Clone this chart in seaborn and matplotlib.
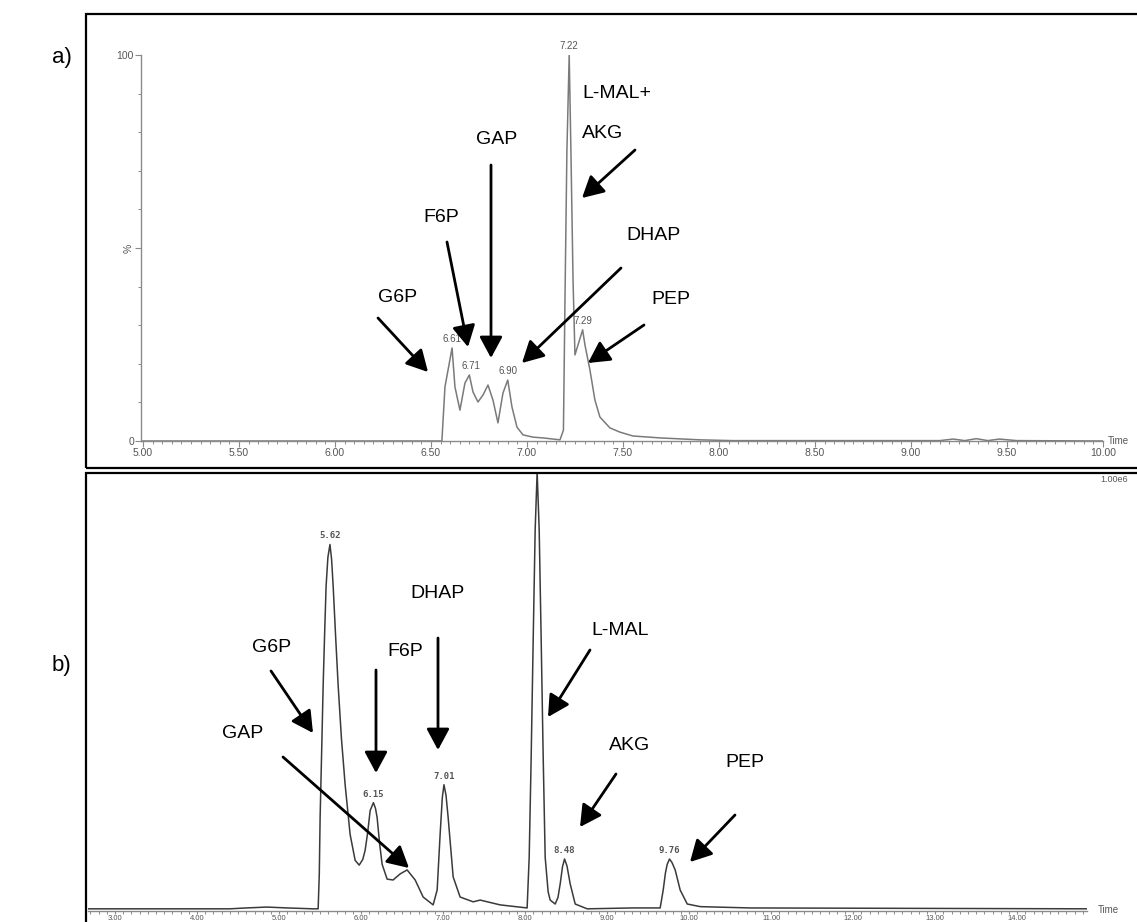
import numpy as np
import pandas as pd
import matplotlib
matplotlib.use("Agg")
import matplotlib.pyplot as plt
from matplotlib.patches import Rectangle, FancyArrowPatch
from matplotlib.ticker import MultipleLocator, FixedLocator
import seaborn as sns

# ---------------- data ----------------
# panel a) chromatogram trace: retention time (min) vs relative intensity (%)
time_a = [4.99, 6.40, 6.557, 6.573, 6.61, 6.625, 6.651, 6.677, 6.70, 6.719, 6.745,
          6.771, 6.797, 6.823, 6.849, 6.875, 6.90, 6.922, 6.948, 6.979, 7.031,
          7.083, 7.172, 7.19, 7.198, 7.208, 7.22, 7.229, 7.24, 7.25, 7.266, 7.29,
          7.302, 7.328, 7.354, 7.38, 7.432, 7.484, 7.552, 7.693, 7.901, 8.07,
          8.5, 9.15, 9.22, 9.28, 9.34, 9.40, 9.46, 9.55, 10.0]
signal_a = [0.0, 0.0, 0.0, 14.0, 24.1, 14.0, 8.0, 15.0, 17.1, 12.7, 10.1,
            11.9, 14.5, 10.6, 4.7, 12.4, 15.8, 8.8, 3.6, 1.6, 1.0,
            0.8, 0.3, 2.8, 36.5, 75.0, 100.0, 75.0, 41.7, 22.3, 24.9, 28.8,
            24.9, 18.4, 10.6, 6.2, 3.4, 2.3, 1.3, 0.8, 0.3, 0.1,
            0.1, 0.1, 0.5, 0.1, 0.6, 0.1, 0.5, 0.1, 0.0]
peaks_a = [6.61, 6.71, 6.90, 7.22, 7.29]
peak_heights_a = [24.1, 17.1, 15.8, 100.0, 28.8]

# panel b) chromatogram trace
time_b = [2.67, 4.40, 4.60, 4.85, 5.10, 5.41, 5.476, 5.49, 5.50, 5.52, 5.537, 5.555,
          5.573, 5.595, 5.62, 5.64, 5.659, 5.69, 5.72, 5.76, 5.805, 5.866, 5.927,
          5.976, 6.02, 6.049, 6.08, 6.11, 6.15, 6.175, 6.195, 6.225, 6.256, 6.317,
          6.39, 6.476, 6.561, 6.659, 6.756, 6.878, 6.927, 6.963, 6.99, 7.01, 7.035,
          7.061, 7.122, 7.207, 7.366, 7.451, 7.695, 8.024, 8.049, 8.073, 8.098,
          8.122, 8.146, 8.171, 8.195, 8.22, 8.244, 8.28, 8.305, 8.366, 8.40, 8.427,
          8.455, 8.48, 8.51, 8.549, 8.61, 8.756, 9.317, 9.646, 9.683, 9.71, 9.732,
          9.76, 9.79, 9.829, 9.89, 9.976, 10.134, 10.74, 14.85]
signal_b = [0.0, 0.0, 0.2, 0.4, 0.2, 0.0, 0.0, 8.0, 20.9, 37.0, 51.1, 63.0,
            73.9, 80.5, 83.4, 80.0, 73.9, 62.0, 51.1, 39.0, 28.4, 17.0, 11.1,
            10.0, 11.3, 13.4, 17.5, 22.5, 24.3, 23.0, 20.9, 15.0, 10.2, 6.8,
            6.6, 8.0, 8.9, 6.6, 2.7, 0.9, 4.3, 17.0, 25.5, 28.4, 26.0,
            20.9, 7.3, 2.7, 1.6, 2.0, 0.9, 0.2, 11.8, 34.5, 61.8,
            86.8, 100.0, 86.8, 61.8, 34.5, 11.8, 3.9, 2.0, 1.1, 2.6, 5.7,
            9.6, 11.4, 9.8, 5.7, 1.1, 0.0, 0.2, 0.2, 4.3, 8.2, 10.2,
            11.4, 10.6, 8.9, 4.3, 1.1, 0.5, 0.2, 0.0]
peaks_b = [5.62, 6.15, 7.01, 8.48, 9.76]
peak_heights_b = [83.4, 24.3, 28.4, 11.4, 11.4]

xticks_a = [5.0, 5.5, 6.0, 6.5, 7.0, 7.5, 8.0, 8.5, 9.0, 9.5, 10.0]
xticks_b = [3, 4, 5, 6, 7, 8, 9, 10, 11, 12, 13, 14]

# ---------------- figure ----------------
sns.set_style("white")
plt.rcParams['font.family'] = ['Liberation Sans', 'DejaVu Sans']
plt.rcParams['text.color'] = 'black'

W, H = 1137, 922
fig = plt.figure(figsize=(W / 100, H / 100), dpi=100)


def fx(x):
    return x / W


def fy(y):
    return (H - y) / H


# panel frames
for (y0, y1) in [(14, 468), (473, 930)]:
    fig.add_artist(Rectangle((fx(86), fy(y1)), fx(1150) - fx(86), fy(y0) - fy(y1),
                             transform=fig.transFigure, fill=False,
                             edgecolor='black', linewidth=1.6))

axis_grey = '#8a8a8a'
label_grey = '#555555'

# ---------- panel a ----------
ax_a = fig.add_axes([fx(141), fy(441), fx(1103) - fx(141), fy(55) - fy(441)])
ax_a.patch.set_alpha(0)
df_a = pd.DataFrame({'time': time_a, 'signal': signal_a})
sns.lineplot(data=df_a, x='time', y='signal', ax=ax_a, color='#7a7a7a',
             linewidth=1.1, estimator=None, sort=False)
ax_a.set_xlim(4.99, 10.0)
ax_a.set_ylim(0, 100)
for s in ['top', 'right']:
    ax_a.spines[s].set_visible(False)
for s in ['left', 'bottom']:
    ax_a.spines[s].set_color(axis_grey)
    ax_a.spines[s].set_linewidth(1.0)
ax_a.xaxis.set_major_locator(FixedLocator(xticks_a))
ax_a.set_xticklabels([f"{v:.2f}" for v in xticks_a])
ax_a.xaxis.set_minor_locator(MultipleLocator(0.05))
ax_a.yaxis.set_major_locator(FixedLocator([0, 50, 100]))
ax_a.set_yticklabels(['0', '%', '100'])
ax_a.yaxis.set_minor_locator(MultipleLocator(10))
ax_a.tick_params(axis='both', which='major', direction='out', length=4, width=0.8,
                 color=axis_grey, labelsize=7.5, labelcolor=label_grey, pad=1,
                 bottom=True, left=True)
ax_a.tick_params(axis='both', which='minor', direction='out', length=2.5, width=0.7,
                 color=axis_grey, bottom=True, left=True)
for lbl in ax_a.get_yticklabels():
    if lbl.get_text() == '%':
        lbl.set_rotation(90)
        lbl.set_va('center')
ax_a.set_xlabel('')
ax_a.set_ylabel('')
for rt, h in zip(peaks_a, peak_heights_a):
    ax_a.annotate(f"{rt:.2f}", (rt, h), xytext=(0, 3), textcoords='offset points',
                  ha='center', va='bottom', fontsize=7, color=label_grey)
fig.text(fx(1108), fy(441), 'Time', fontsize=7, color=label_grey, ha='left', va='center')

# ---------- panel b ----------
ax_b = fig.add_axes([fx(88), fy(911), fx(1087) - fx(88), fy(472) - fy(911)])
ax_b.patch.set_alpha(0)
df_b = pd.DataFrame({'time': time_b, 'signal': signal_b})
sns.lineplot(data=df_b, x='time', y='signal', ax=ax_b, color='#3a3a3a',
             linewidth=1.1, estimator=None, sort=False)
ax_b.set_xlim(2.67, 14.85)
ax_b.set_ylim(-0.5, 100)
for s in ['top', 'right', 'left']:
    ax_b.spines[s].set_visible(False)
ax_b.spines['bottom'].set_color(axis_grey)
ax_b.spines['bottom'].set_linewidth(1.0)
ax_b.xaxis.set_major_locator(FixedLocator(xticks_b))
ax_b.set_xticklabels([f"{v:.2f}" for v in xticks_b])
ax_b.xaxis.set_minor_locator(MultipleLocator(0.1))
ax_b.set_yticks([])
ax_b.tick_params(axis='x', which='major', direction='out', length=2.5, width=0.8,
                 color=axis_grey, labelsize=5.5, labelcolor=label_grey, pad=0.3,
                 bottom=True)
ax_b.tick_params(axis='x', which='minor', direction='out', length=1.8, width=0.7,
                 color=axis_grey, bottom=True)
ax_b.set_xlabel('')
ax_b.set_ylabel('')
for rt, h in zip(peaks_b, peak_heights_b):
    ax_b.annotate(f"{rt:.2f}", (rt, h), xytext=(0, 3), textcoords='offset points',
                  ha='center', va='bottom', fontsize=6.5, color=label_grey,
                  fontweight='bold', family='DejaVu Sans Mono')
fig.text(fx(1098), fy(910), 'Time', fontsize=7, color=label_grey, ha='left', va='center')
fig.text(fx(1100), fy(479), '1.00e6', fontsize=6.5, color=label_grey, ha='left', va='center')

# ---------- panel letters ----------
fig.text(fx(52), fy(58), 'a)', fontsize=16, ha='left', va='center', color='black')
fig.text(fx(52), fy(665), 'b)', fontsize=16, ha='left', va='center', color='black')

# ---------- annotations (text + arrows, figure pixel layout) ----------
def label(x, y, s, ha='center'):
    fig.text(fx(x), fy(y), s, fontsize=14, ha=ha, va='center', color='black')


def arrow(x0, y0, x1, y1):
    fig.add_artist(FancyArrowPatch((fx(x0), fy(y0)), (fx(x1), fy(y1)),
                                   transform=fig.transFigure,
                                   arrowstyle='-|>,head_length=0.65,head_width=0.35',
                                   mutation_scale=20, lw=2.0, color='black',
                                   shrinkA=0, shrinkB=0))

# panel a
label(398, 297, 'G6P'); arrow(378, 318, 428, 372)
label(441, 217, 'F6P'); arrow(447, 242, 468, 347)
label(497, 140, 'GAP'); arrow(491, 165, 491, 358)
label(654, 236, 'DHAP'); arrow(621, 268, 522, 363)
label(582, 93, 'L-MAL+', ha='left'); label(582, 133, 'AKG', ha='left')
arrow(635, 150, 582, 198)
label(671, 299, 'PEP'); arrow(644, 325, 588, 363)

# panel b
label(272, 647, 'G6P'); arrow(271, 671, 313, 733)
label(405, 652, 'F6P'); arrow(376, 670, 376, 773)
label(437, 593, 'DHAP'); arrow(438, 638, 438, 750)
label(243, 733, 'GAP'); arrow(283, 757, 409, 868)
label(620, 630, 'L-MAL'); arrow(590, 650, 548, 717)
label(630, 745, 'AKG'); arrow(616, 774, 580, 827)
label(745, 762, 'PEP'); arrow(735, 815, 690, 862)

fig.savefig('out.png', dpi=100)
